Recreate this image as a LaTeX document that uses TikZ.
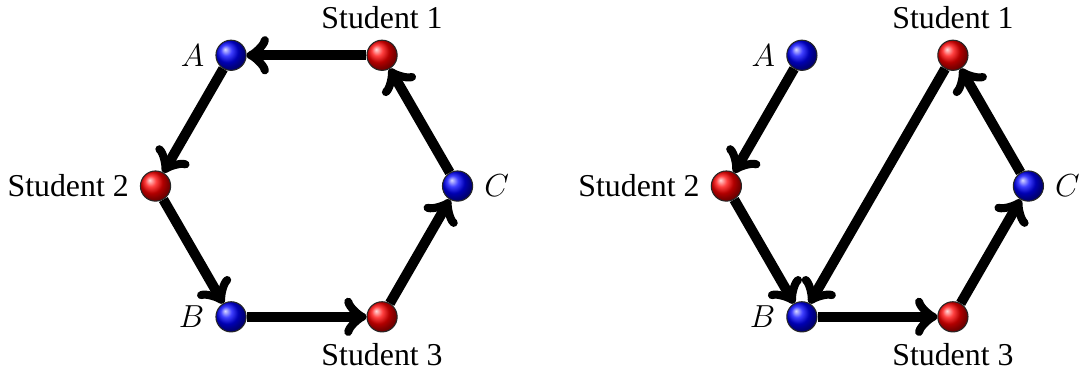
\documentclass[tikz,border=0pt,12pt]{standalone}
\usepackage{fontspec}
\setmainfont{Liberation Serif}
\usetikzlibrary{shadings}
\tikzset{stu/.style={circle, draw=black!85, thin, minimum size=4mm, inner sep=0pt, shading=ball, ball color=red},
  let/.style={circle, draw=black!85, thin, minimum size=4mm, inner sep=0pt, shading=ball, ball color=blue},
  flow/.style={->, line width=3.8pt}}

\begin{document}
\begin{tikzpicture}
  \useasboundingbox (-4.06,-2.477) rectangle (10.27,2.464);
  % same six nodes on a hexagon, left and right
  \foreach \dx/\p in {0/l,7.56/r}{
    \begin{scope}[xshift=\dx cm]
      \node[stu, label=above:Student 1] (\p1) at (60:2) {};
      \node[let, label=left:$A$] (\p A) at (120:2) {};
      \node[stu, label=left:Student 2] (\p2) at (180:2) {};
      \node[let, label=left:$B$] (\p B) at (240:2) {};
      \node[stu, label=below:Student 3] (\p3) at (300:2) {};
      \node[let, label=right:$C$] (\p C) at (0:2) {};
    \end{scope}}
  % left: one cycle
  \foreach \a/\b in {1/A,A/2,2/B,B/3,3/C,C/1}{
    \draw[flow] (l\a) -- (l\b);}
  % right: two cycles through B
  \foreach \a/\b in {A/2,2/B,1/B,B/3,3/C,C/1}{
    \draw[flow] (r\a) -- (r\b);}
\end{tikzpicture}
\end{document}
